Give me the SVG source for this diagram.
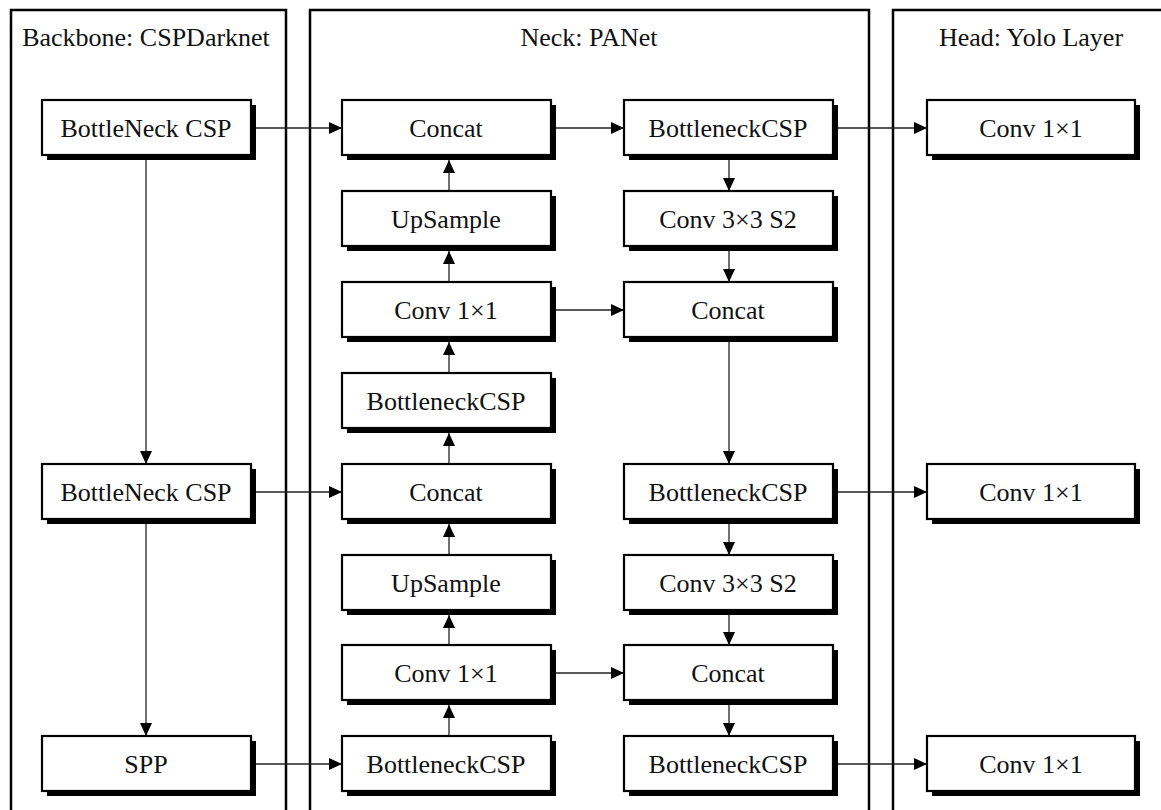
<svg xmlns="http://www.w3.org/2000/svg" width="1161" height="810" viewBox="0 0 1161 810">
<style>
.panel{fill:none;stroke:#000;stroke-width:2.5}
.sh{fill:#000}
.bx{fill:#fff;stroke:#000;stroke-width:2.2}
.t{font-family:"Liberation Serif","Times New Roman",serif;font-size:26px;fill:#111;text-anchor:middle}
.c{stroke:#222;stroke-width:1.3;fill:none;marker-end:url(#ah)}
</style>
<defs>
<marker id="ah" markerUnits="userSpaceOnUse" markerWidth="14" markerHeight="13" refX="13" refY="6" orient="auto">
<path d="M0,0 L13,6 L0,12 Z" fill="#000"/>
</marker>
</defs>
<rect width="1161" height="810" fill="#fff"/>
<g id="panels">
<rect class="panel" x="11" y="10" width="275" height="820"/>
<text class="t" x="146" y="46">Backbone: CSPDarknet</text>
<rect class="panel" x="310" y="10" width="559" height="820"/>
<text class="t" x="589" y="46">Neck: PANet</text>
<rect class="panel" x="893" y="10" width="300" height="820"/>
<text class="t" x="1031" y="46">Head: Yolo Layer</text>
</g>
<g id="connectors">
<line class="c" x1="256" y1="128" x2="342" y2="128"/>
<line class="c" x1="556" y1="128" x2="624" y2="128"/>
<line class="c" x1="838" y1="128" x2="927" y2="128"/>
<line class="c" x1="556" y1="310" x2="624" y2="310"/>
<line class="c" x1="256" y1="492" x2="342" y2="492"/>
<line class="c" x1="838" y1="492" x2="927" y2="492"/>
<line class="c" x1="556" y1="673" x2="624" y2="673"/>
<line class="c" x1="256" y1="764" x2="342" y2="764"/>
<line class="c" x1="838" y1="764" x2="927" y2="764"/>
<line class="c" x1="146" y1="160" x2="146" y2="464"/>
<line class="c" x1="146" y1="524" x2="146" y2="736"/>
<line class="c" x1="449" y1="736" x2="449" y2="705"/>
<line class="c" x1="449" y1="645" x2="449" y2="615"/>
<line class="c" x1="449" y1="555" x2="449" y2="524"/>
<line class="c" x1="449" y1="464" x2="449" y2="433"/>
<line class="c" x1="449" y1="373" x2="449" y2="342"/>
<line class="c" x1="449" y1="282" x2="449" y2="251"/>
<line class="c" x1="449" y1="191" x2="449" y2="160"/>
<line class="c" x1="729" y1="160" x2="729" y2="191"/>
<line class="c" x1="729" y1="251" x2="729" y2="282"/>
<line class="c" x1="729" y1="342" x2="729" y2="464"/>
<line class="c" x1="729" y1="524" x2="729" y2="555"/>
<line class="c" x1="729" y1="615" x2="729" y2="645"/>
<line class="c" x1="729" y1="705" x2="729" y2="736"/>
</g>
<g id="bb1"><rect class="sh" x="47" y="105" width="209" height="55"/><rect class="bx" x="42" y="100" width="209" height="55"/><text class="t" x="146" y="137">BottleNeck CSP</text></g>
<g id="bb2"><rect class="sh" x="47" y="469" width="209" height="55"/><rect class="bx" x="42" y="464" width="209" height="55"/><text class="t" x="146" y="501">BottleNeck CSP</text></g>
<g id="spp"><rect class="sh" x="47" y="741" width="209" height="55"/><rect class="bx" x="42" y="736" width="209" height="55"/><text class="t" x="146" y="773">SPP</text></g>
<g id="n_concat1"><rect class="sh" x="347" y="105" width="209" height="55"/><rect class="bx" x="342" y="100" width="209" height="55"/><text class="t" x="446" y="137">Concat</text></g>
<g id="n_up1"><rect class="sh" x="347" y="196" width="209" height="55"/><rect class="bx" x="342" y="191" width="209" height="55"/><text class="t" x="446" y="228">UpSample</text></g>
<g id="n_conv1"><rect class="sh" x="347" y="287" width="209" height="55"/><rect class="bx" x="342" y="282" width="209" height="55"/><text class="t" x="446" y="319">Conv 1×1</text></g>
<g id="n_bcsp1"><rect class="sh" x="347" y="378" width="209" height="55"/><rect class="bx" x="342" y="373" width="209" height="55"/><text class="t" x="446" y="410">BottleneckCSP</text></g>
<g id="n_concat2"><rect class="sh" x="347" y="469" width="209" height="55"/><rect class="bx" x="342" y="464" width="209" height="55"/><text class="t" x="446" y="501">Concat</text></g>
<g id="n_up2"><rect class="sh" x="347" y="560" width="209" height="55"/><rect class="bx" x="342" y="555" width="209" height="55"/><text class="t" x="446" y="592">UpSample</text></g>
<g id="n_conv2"><rect class="sh" x="347" y="650" width="209" height="55"/><rect class="bx" x="342" y="645" width="209" height="55"/><text class="t" x="446" y="682">Conv 1×1</text></g>
<g id="n_bcsp2"><rect class="sh" x="347" y="741" width="209" height="55"/><rect class="bx" x="342" y="736" width="209" height="55"/><text class="t" x="446" y="773">BottleneckCSP</text></g>
<g id="r_bcsp1"><rect class="sh" x="629" y="105" width="209" height="55"/><rect class="bx" x="624" y="100" width="209" height="55"/><text class="t" x="728" y="137">BottleneckCSP</text></g>
<g id="r_conv1"><rect class="sh" x="629" y="196" width="209" height="55"/><rect class="bx" x="624" y="191" width="209" height="55"/><text class="t" x="728" y="228">Conv 3×3 S2</text></g>
<g id="r_concat1"><rect class="sh" x="629" y="287" width="209" height="55"/><rect class="bx" x="624" y="282" width="209" height="55"/><text class="t" x="728" y="319">Concat</text></g>
<g id="r_bcsp2"><rect class="sh" x="629" y="469" width="209" height="55"/><rect class="bx" x="624" y="464" width="209" height="55"/><text class="t" x="728" y="501">BottleneckCSP</text></g>
<g id="r_conv2"><rect class="sh" x="629" y="560" width="209" height="55"/><rect class="bx" x="624" y="555" width="209" height="55"/><text class="t" x="728" y="592">Conv 3×3 S2</text></g>
<g id="r_concat2"><rect class="sh" x="629" y="650" width="209" height="55"/><rect class="bx" x="624" y="645" width="209" height="55"/><text class="t" x="728" y="682">Concat</text></g>
<g id="r_bcsp3"><rect class="sh" x="629" y="741" width="209" height="55"/><rect class="bx" x="624" y="736" width="209" height="55"/><text class="t" x="728" y="773">BottleneckCSP</text></g>
<g id="h_conv1"><rect class="sh" x="932" y="105" width="208" height="55"/><rect class="bx" x="927" y="100" width="208" height="55"/><text class="t" x="1031" y="137">Conv 1×1</text></g>
<g id="h_conv2"><rect class="sh" x="932" y="469" width="208" height="55"/><rect class="bx" x="927" y="464" width="208" height="55"/><text class="t" x="1031" y="501">Conv 1×1</text></g>
<g id="h_conv3"><rect class="sh" x="932" y="741" width="208" height="55"/><rect class="bx" x="927" y="736" width="208" height="55"/><text class="t" x="1031" y="773">Conv 1×1</text></g>
</svg>
